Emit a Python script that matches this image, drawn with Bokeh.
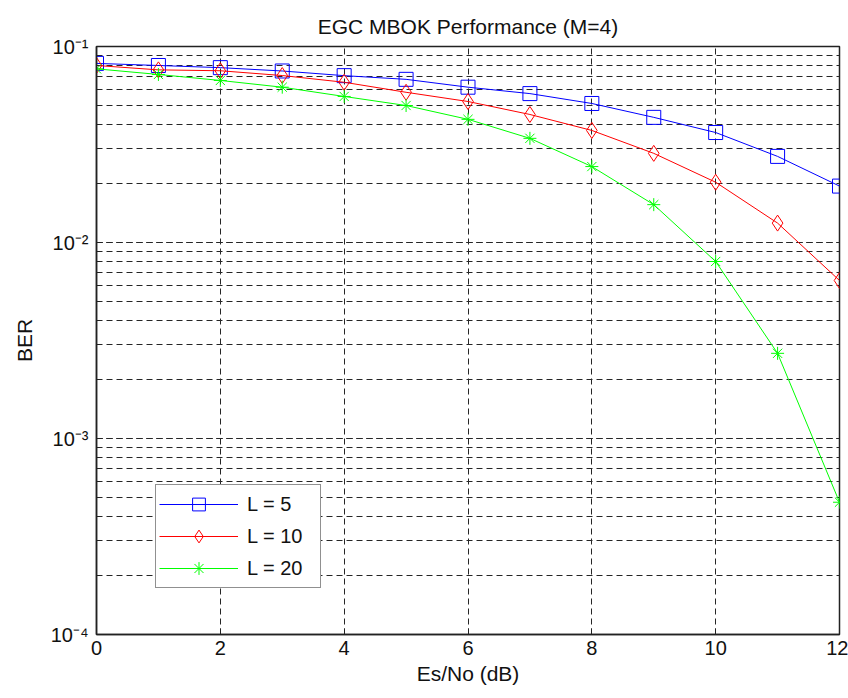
from bokeh.plotting import figure
from bokeh.models import (Range1d, FixedTicker, LogTicker,
                          CustomJSTickFormatter, Legend)
from bokeh.embed import file_html
from bokeh.resources import INLINE

# ---- data ----
snr_db = [0, 1, 2, 3, 4, 5, 6, 7, 8, 9, 10, 11, 12]
ber_L5 = [0.082, 0.080, 0.078, 0.075, 0.071, 0.068, 0.062, 0.0575, 0.0512,
          0.0435, 0.0364, 0.0275, 0.0194]
ber_L10 = [0.080, 0.076, 0.0752, 0.0711, 0.0657, 0.0584, 0.0524, 0.045,
           0.0373, 0.0285, 0.0203, 0.01256, 0.0064]
ber_L20 = [0.0769, 0.072, 0.0671, 0.062, 0.0556, 0.050, 0.0425, 0.034,
           0.0244, 0.0156, 0.0080, 0.00272, 0.000473]
x_ticks = [0, 2, 4, 6, 8, 10, 12]
labels = ["L = 5", "L = 10", "L = 20"]

FONT = "Liberation Sans"
GRID = "#262626"

p = figure(width=848, height=698, y_axis_type="log",
           x_range=Range1d(0, 12), y_range=Range1d(1e-4, 1e-1),
           output_backend="svg", toolbar_location=None,
           min_border_left=96, min_border_right=9,
           min_border_top=46, min_border_bottom=64,
           title="EGC MBOK Performance (M=4)")
p.background_fill_color = "white"
p.border_fill_color = "white"
p.outline_line_color = "#222222"
p.outline_line_width = 1.5

p.title.align = "center"
p.title.text_font = FONT
p.title.text_font_style = "normal"
p.title.text_font_size = "21px"
p.title.text_color = "#111111"
p.title.standoff = 18

ylog_ticker = LogTicker(num_minor_ticks=10)
x_ticker = FixedTicker(ticks=x_ticks, minor_ticks=[])

sup_fmt = CustomJSTickFormatter(code="""
const sup = {'-':'\u207b','0':'\u2070','1':'\u00b9','2':'\u00b2','3':'\u00b3',
             '4':'\u2074','5':'\u2075','6':'\u2076','7':'\u2077','8':'\u2078','9':'\u2079'};
const e = Math.round(Math.log10(tick));
return '10' + String(e).split('').map(c => sup[c]).join('');
""")

xa = p.xaxis[0]
xa.ticker = x_ticker
xa.axis_label = "Es/No (dB)"
ya = p.yaxis[0]
ya.ticker = ylog_ticker
ya.formatter = sup_fmt
ya.axis_label = "BER"

for ax in (xa, ya):
    ax.major_tick_in = 6
    ax.major_tick_out = 0
    ax.minor_tick_in = 3
    ax.minor_tick_out = 0
    ax.axis_line_color = "#222222"
    ax.axis_line_width = 1.5
    ax.major_tick_line_color = "#222222"
    ax.minor_tick_line_color = "#222222"
    ax.major_label_text_font = FONT
    ax.major_label_text_font_size = "20px"
    ax.major_label_text_color = "#111111"
    ax.axis_label_text_font = FONT
    ax.axis_label_text_font_size = "21px"
    ax.axis_label_text_font_style = "normal"
    ax.axis_label_text_color = "#111111"
xa.major_label_standoff = 6
xa.axis_label_standoff = 4
ya.major_label_standoff = 8
ya.axis_label_standoff = 12

# grids: dashed
p.xgrid.ticker = x_ticker
p.ygrid.ticker = ylog_ticker
for g in (p.xgrid, p.ygrid):
    g.grid_line_color = GRID
    g.grid_line_dash = "6 4"
    g.grid_line_width = 1
p.ygrid.minor_grid_line_color = GRID
p.ygrid.minor_grid_line_dash = "6 4"
p.ygrid.minor_grid_line_width = 1

colors = ["#0000ff", "#ff0000", "#00ff00"]
series = [ber_L5, ber_L10, ber_L20]
markers = ["square", "diamond", "asterisk"]
sizes = [14, 16, 13]

items = []
for ys, c, m, s, lab in zip(series, colors, markers, sizes, labels):
    r1 = p.line(snr_db, ys, line_color=c, line_width=1)
    r2 = p.scatter(snr_db, ys, marker=m, size=s, line_color=c,
                   fill_color=None, line_width=1)
    items.append((lab, [r1, r2]))

legend = Legend(items=items, location=(59, 46))
legend.border_line_color = "#222222"
legend.border_line_width = 1.5
legend.background_fill_color = "white"
legend.background_fill_alpha = 1
legend.label_text_font = FONT
legend.label_text_font_size = "20px"
legend.label_text_color = "#111111"
legend.label_text_baseline = "middle"
legend.glyph_width = 79
legend.glyph_height = 32
legend.label_height = 32
legend.label_width = 70
legend.label_standoff = 9
legend.spacing = 0
legend.padding = 3
legend.margin = 0
p.add_layout(legend, "center")

open("out.html", "w").write(file_html(p, INLINE))
